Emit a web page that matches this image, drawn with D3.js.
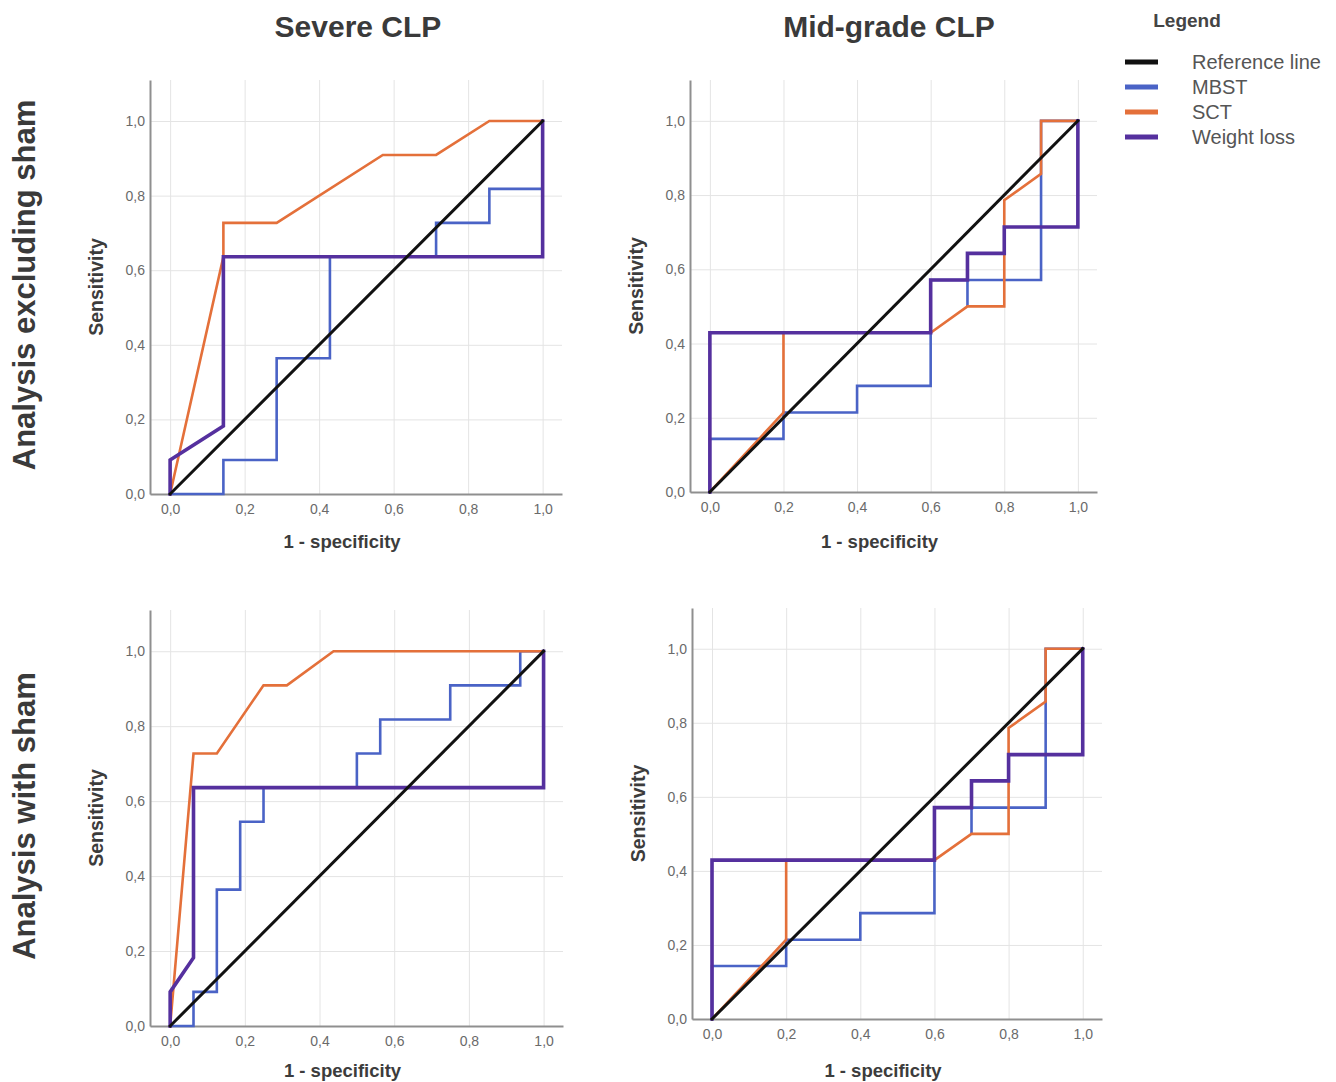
<!DOCTYPE html>
<html>
<head>
<meta charset="utf-8">
<script src="https://cdn.jsdelivr.net/npm/d3@7"></script>
<style>
  body { margin: 0; background: #fff; }
  svg text { font-family: "Liberation Sans", Arial, sans-serif; }
  .grid line { stroke: #e4e4e4; stroke-width: 1; }
  .grid path { display: none; }
  .axis path { stroke: #8f8f8f; stroke-width: 2; }
  .axis text { fill: #6a6a6a; font-size: 14px; }
</style>
</head>
<body>
<script>
// column / row headings
const colTitles = ["Severe CLP", "Mid-grade CLP"];
const rowTitles = ["Analysis excluding sham", "Analysis with sham"];
const seriesNames = ["Reference line", "MBST", "SCT", "Weight loss"];
const tickVals = [0, 0.2, 0.4, 0.6, 0.8, 1.0];

// ROC points [1 - specificity, sensitivity]
const refLine = [[0, 0], [1, 1]];

// severe CLP, excluding sham
const sevExclMBST = [[0,0],[0.143,0],[0.143,0.091],[0.286,0.091],[0.286,0.364],[0.429,0.364],[0.429,0.636],[0.714,0.636],[0.714,0.727],[0.857,0.727],[0.857,0.818],[1,0.818],[1,1]];
const sevExclSCT = [[0,0],[0.143,0.636],[0.143,0.727],[0.286,0.727],[0.571,0.909],[0.714,0.909],[0.857,1],[1,1]];
const sevExclWL = [[0,0],[0,0.091],[0.143,0.182],[0.143,0.636],[1,0.636],[1,1]];

// mid-grade CLP, excluding sham
const midExclMBST = [[0,0],[0,0.143],[0.2,0.143],[0.2,0.214],[0.4,0.214],[0.4,0.286],[0.6,0.286],[0.6,0.571],[0.7,0.571],[0.7,0.5],[0.7,0.571],[0.9,0.571],[0.9,1],[1,1]];
const midExclSCT = [[0,0],[0.2,0.214],[0.2,0.429],[0.6,0.429],[0.7,0.5],[0.8,0.5],[0.8,0.786],[0.9,0.857],[0.9,1],[1,1]];
const midExclWL = [[0,0],[0,0.429],[0.6,0.429],[0.6,0.571],[0.7,0.571],[0.7,0.643],[0.8,0.643],[0.8,0.714],[1,0.714],[1,1]];

// severe CLP, with sham
const sevShamMBST = [[0,0],[0.0625,0],[0.0625,0.091],[0.125,0.091],[0.125,0.364],[0.1875,0.364],[0.1875,0.545],[0.25,0.545],[0.25,0.636],[0.5,0.636],[0.5,0.727],[0.5625,0.727],[0.5625,0.818],[0.75,0.818],[0.75,0.909],[0.9375,0.909],[0.9375,1],[1,1]];
const sevShamSCT = [[0,0],[0.0625,0.727],[0.125,0.727],[0.25,0.909],[0.3125,0.909],[0.4375,1],[1,1]];
const sevShamWL = [[0,0],[0,0.091],[0.0625,0.182],[0.0625,0.636],[1,0.636],[1,1]];

// mid-grade CLP, with sham
const midShamMBST = [[0,0],[0,0.143],[0.2,0.143],[0.2,0.214],[0.4,0.214],[0.4,0.286],[0.6,0.286],[0.6,0.571],[0.7,0.571],[0.7,0.5],[0.7,0.571],[0.9,0.571],[0.9,1],[1,1]];
const midShamSCT = [[0,0],[0.2,0.214],[0.2,0.429],[0.6,0.429],[0.7,0.5],[0.8,0.5],[0.8,0.786],[0.9,0.857],[0.9,1],[1,1]];
const midShamWL = [[0,0],[0,0.429],[0.6,0.429],[0.6,0.571],[0.7,0.571],[0.7,0.643],[0.8,0.643],[0.8,0.714],[1,0.714],[1,1]];

const colors = ["#111111", "#4a63c6", "#e4703a", "#55309e"];
const widths = [3, 2.6, 2.6, 3.6];

const w = 1336, h = 1082;
const svg = d3.select("body").append("svg")
  .attr("width", w)
  .attr("height", h);

// panel boxes (axis extents); labelY = baseline of "1 - specificity"
const panels = [
  {left: 150, top: 80,  right: 562,  bottom: 494,  labelY: 548,  data: [refLine, sevExclMBST, sevExclSCT, sevExclWL]},
  {left: 690, top: 80,  right: 1097, bottom: 492,  labelY: 548,  data: [refLine, midExclMBST, midExclSCT, midExclWL]},
  {left: 150, top: 610, right: 563,  bottom: 1026, labelY: 1077, data: [refLine, sevShamMBST, sevShamSCT, sevShamWL]},
  {left: 692, top: 608, right: 1102, bottom: 1019, labelY: 1077, data: [refLine, midShamMBST, midShamSCT, midShamWL]}
];

const fmt = d => d3.format(".1f")(d).replace(".", ",");

panels.forEach(p => {
  const x = d3.scaleLinear().domain([-0.054, 1.052]).range([p.left, p.right]);
  const y = d3.scaleLinear().domain([0, 1.11]).range([p.bottom, p.top]);
  const g = svg.append("g");

  // grid
  g.append("g").attr("class", "grid")
    .attr("transform", "translate(0," + p.bottom + ")")
    .call(d3.axisBottom(x).tickValues(tickVals).tickSize(-(p.bottom - p.top)).tickFormat(""));
  g.append("g").attr("class", "grid")
    .attr("transform", "translate(" + p.left + ",0)")
    .call(d3.axisLeft(y).tickValues(tickVals).tickSize(-(p.right - p.left)).tickFormat(""));

  // axes
  g.append("g").attr("class", "axis")
    .attr("transform", "translate(0," + p.bottom + ")")
    .call(d3.axisBottom(x).tickValues(tickVals).tickSize(0).tickSizeOuter(0).tickPadding(10).tickFormat(fmt));
  g.append("g").attr("class", "axis")
    .attr("transform", "translate(" + p.left + ",0)")
    .call(d3.axisLeft(y).tickValues(tickVals).tickSize(0).tickSizeOuter(0).tickPadding(5).tickFormat(fmt));

  // curves: MBST, SCT, weight loss, then reference on top
  const line = d3.line().x(d => x(d[0])).y(d => y(d[1]));
  [1, 2, 3, 0].forEach(i => {
    g.append("path")
      .attr("d", line(p.data[i]))
      .attr("fill", "none")
      .attr("stroke", colors[i])
      .attr("stroke-width", widths[i])
      .attr("stroke-linejoin", "miter")
      .attr("stroke-linecap", "square");
  });

  // axis titles
  g.append("text")
    .attr("x", (p.left + p.right) / 2 - 14)
    .attr("y", p.labelY)
    .attr("text-anchor", "middle")
    .attr("font-size", 18.5)
    .attr("font-weight", "bold")
    .attr("fill", "#3c3c3c")
    .text("1 - specificity");
  g.append("text")
    .attr("transform", "translate(" + (p.left - 47) + "," + ((p.top + p.bottom) / 2) + ") rotate(-90)")
    .attr("text-anchor", "middle")
    .attr("font-size", 19.5)
    .attr("font-weight", "bold")
    .attr("fill", "#3c3c3c")
    .text("Sensitivity");
});

// column titles
svg.selectAll(".colTitle")
  .data(colTitles)
  .enter()
  .append("text")
  .attr("class", "colTitle")
  .attr("x", (d, i) => i === 0 ? 358 : 889)
  .attr("y", 37)
  .attr("text-anchor", "middle")
  .attr("font-size", 30)
  .attr("font-weight", "bold")
  .attr("fill", "#3a3a3a")
  .text(d => d);

// row titles
svg.selectAll(".rowTitle")
  .data(rowTitles)
  .enter()
  .append("text")
  .attr("class", "rowTitle")
  .attr("transform", (d, i) => "translate(35," + (i === 0 ? 285 : 816) + ") rotate(-90)")
  .attr("text-anchor", "middle")
  .attr("font-size", 31)
  .attr("font-weight", "bold")
  .attr("fill", "#3a3a3a")
  .text(d => d);

// legend
const legend = svg.append("g").attr("id", "legend");
legend.append("text")
  .attr("x", 1187)
  .attr("y", 27)
  .attr("text-anchor", "middle")
  .attr("font-size", 19)
  .attr("font-weight", "bold")
  .attr("fill", "#444")
  .text("Legend");

const item = legend.selectAll(".item")
  .data(seriesNames)
  .enter()
  .append("g")
  .attr("class", "item")
  .attr("transform", (d, i) => "translate(0," + (62 + i * 25) + ")");
item.append("line")
  .attr("x1", 1125).attr("x2", 1158)
  .attr("stroke", (d, i) => colors[i])
  .attr("stroke-width", 5);
item.append("text")
  .attr("x", 1192)
  .attr("dy", "0.35em")
  .attr("font-size", 20)
  .attr("fill", "#555")
  .text(d => d);
</script>
</body>
</html>
